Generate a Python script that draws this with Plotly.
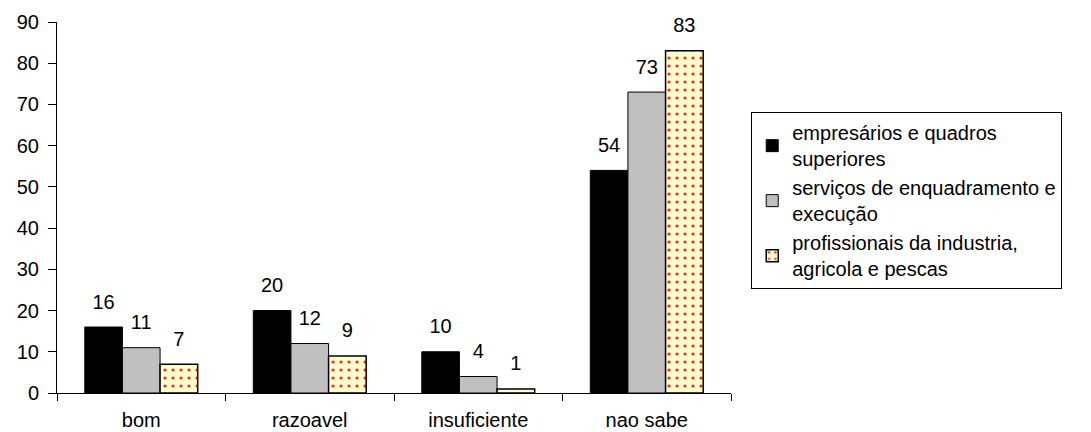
import plotly.graph_objects as go

categories = ["bom", "razoavel", "insuficiente", "nao sabe"]
series_names = [
    "empresários e quadros<br>superiores",
    "serviços de enquadramento e<br>execução",
    "profissionais da industria,<br>agricola e pescas",
]
empresarios = [16, 20, 10, 54]
servicos = [11, 12, 4, 73]
profissionais = [7, 9, 1, 83]
y_ticks = [0, 10, 20, 30, 40, 50, 60, 70, 80, 90]

FONT = "Liberation Sans"
FS = 20
BARGAP = 0.33

dotted = dict(shape=".", fgcolor="#FF2020", bgcolor="#FFFFCC",
              size=8, solidity=0.12, fillmode="replace")
styles = [
    dict(color="#000000", line=dict(color="#000000", width=1)),
    dict(color="#C0C0C0", line=dict(color="#000000", width=1)),
    dict(color="#FFFFCC", line=dict(color="#000000", width=1.5), pattern=dotted),
]

fig = go.Figure()
for i, (name, vals) in enumerate(zip(series_names, [empresarios, servicos, profissionais])):
    fig.add_bar(x=categories, y=vals, name=name, marker=styles[i],
                offsetgroup=str(i), alignmentgroup="a")
for i, vals in enumerate([empresarios, servicos, profissionais]):
    # value labels floating above each bar
    fig.add_scatter(
        x=categories, y=vals, text=[str(v) for v in vals],
        mode="markers+text", textposition="top center",
        marker=dict(size=20, opacity=0),
        textfont=dict(family=FONT, size=FS, color="#000000"),
        offsetgroup=str(i), alignmentgroup="a",
        showlegend=False, hoverinfo="skip", cliponaxis=False,
    )

fig.update_layout(
    width=1091, height=432,
    margin=dict(l=57, r=360, t=22, b=39),
    paper_bgcolor="#FFFFFF", plot_bgcolor="#FFFFFF",
    barmode="group", bargap=BARGAP, bargroupgap=0,
    scattermode="group", scattergap=BARGAP,
    font=dict(family=FONT, size=FS, color="#000000"),
    showlegend=True,
    legend=dict(
        x=1.03, y=0.757, xanchor="left", yanchor="top",
        bordercolor="#000000", borderwidth=1,
        font=dict(family=FONT, size=FS, color="#000000"),
        tracegroupgap=10, itemwidth=30,
    ),
    xaxis=dict(
        showline=True, linecolor="#000000", linewidth=1,
        ticks="outside", ticklen=7, tickcolor="#000000",
        tickson="boundaries", showgrid=False, automargin=False,
        ticklabelstandoff=9,
        tickfont=dict(family=FONT, size=FS),
    ),
    yaxis=dict(
        range=[0, 90], tickvals=y_ticks,
        showline=True, linecolor="#000000", linewidth=1,
        ticks="outside", ticklen=8, tickcolor="#000000",
        showgrid=False, zeroline=False, automargin=False,
        ticklabelstandoff=5,
        tickfont=dict(family=FONT, size=FS),
    ),
)

fig.write_html("out.html")
